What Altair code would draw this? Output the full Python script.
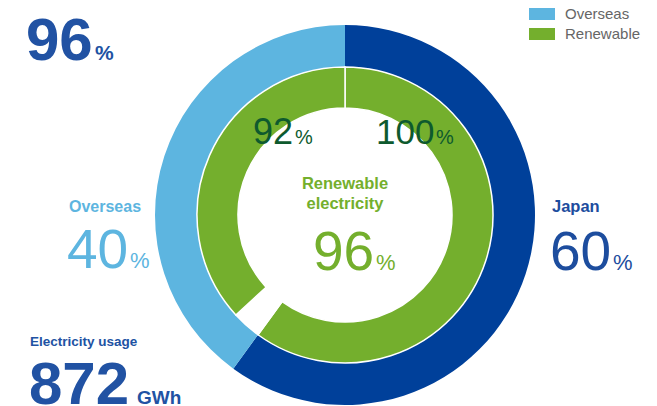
import math
import altair as alt
import pandas as pd

# ---- data ----
region_labels = ["Japan", "Overseas"]
region_shares = [60, 40]            # % of electricity usage
renewable_rates = [100, 92]         # % renewable within each region
total_renewable = ["96", "%"]
center_title = ["Renewable", "electricity"]
usage_label = "Electricity usage"
usage_value = "872"
usage_unit = "GWh"
legend_labels = ["Overseas", "Renewable"]

# ---- derived tables ----
outer = pd.DataFrame({
    "cat": region_labels,
    "value": region_shares,
    "idx": [0, 1],
})
inner_cat = ["Renewable", "Gap", "Renewable2"]
inner_val = [
    region_shares[0] * renewable_rates[0] / 100,
    region_shares[1] * (100 - renewable_rates[1]) / 100,
    region_shares[1] * renewable_rates[1] / 100,
]
inner = pd.DataFrame({"cat": inner_cat, "value": inner_val, "idx": [0, 1, 2]})

DARK = "#00409A"
LIGHT = "#5DB5E0"
GREEN = "#74AF2D"
DKGREEN = "#0E5A2E"
TXTBLUE = "#2152A3"
JPBLUE = "#1D4D9E"
FONT = "Liberation Sans, Arial, sans-serif"

color_scale = alt.Scale(
    domain=["Japan", "Overseas", "Renewable", "Renewable2", "Gap"],
    range=[DARK, LIGHT, GREEN, GREEN, "#ffffff"],
)
theta_scale = alt.Scale(domain=[0, 100], range=[0, 2 * math.pi])

CX, CY = 345 - 8, 215 - 8

outer_ring = alt.Chart(outer).mark_arc(outerRadius=190, innerRadius=148).encode(
    theta=alt.Theta("value:Q", stack=True, scale=theta_scale),
    order=alt.Order("idx:Q"),
    color=alt.Color(
        "cat:N", scale=color_scale,
        legend=alt.Legend(
            values=legend_labels, title=None, orient="none",
            legendX=526.5, legendY=-1.5, direction="vertical",
            symbolType="M-1.733,-0.8H1.733V0.8H-1.733Z", symbolSize=225,
            symbolStrokeWidth=0, symbolOpacity=1,
            labelFont="Liberation Sans", labelFontSize=15, labelColor="#666666",
            labelOffset=15.5, rowPadding=4, padding=0,
        ),
    ),
    x=alt.value(CX), y=alt.value(CY),
)

inner_ring = alt.Chart(inner).mark_arc(
    outerRadius=148, innerRadius=107, stroke="#ffffff", strokeWidth=1.5
).encode(
    theta=alt.Theta("value:Q", stack=True, scale=theta_scale),
    order=alt.Order("idx:Q"),
    color=alt.Color("cat:N", scale=color_scale, legend=None),
    x=alt.value(CX), y=alt.value(CY),
)


def txt(s, x, y, size, color, weight="normal", align="left", font=FONT):
    return alt.Chart(pd.DataFrame({"t": [s]})).mark_text(
        align=align, baseline="alphabetic", fontSize=size, fontWeight=weight,
        font=font, color=color,
    ).encode(x=alt.value(x - 8), y=alt.value(y - 8), text="t:N")


texts = [
    txt(total_renewable[0], 26, 60, 60, TXTBLUE, "bold"),
    txt(total_renewable[1], 95, 60, 21, TXTBLUE, "bold"),
    txt(usage_label, 30, 346, 13.5, TXTBLUE, "bold"),
    txt(usage_value, 29, 404, 60, TXTBLUE, "bold"),
    txt(usage_unit, 137, 404, 19, TXTBLUE, "bold"),
    txt(region_labels[1], 69, 212, 16, LIGHT, "bold"),
    txt(str(region_shares[1]), 67, 268, 55, LIGHT),
    txt("%", 130, 268, 22, LIGHT),
    txt(region_labels[0], 552, 212, 16.5, JPBLUE, "bold"),
    txt(str(region_shares[0]), 550, 270, 55, JPBLUE),
    txt("%", 613, 270, 22, JPBLUE),
    txt(center_title[0], 345, 189, 16.5, GREEN, "bold", "center"),
    txt(center_title[1], 345, 209, 16.5, GREEN, "bold", "center"),
    txt(total_renewable[0], 313, 270, 55, GREEN),
    txt(total_renewable[1], 376, 270, 22, GREEN),
    txt(str(renewable_rates[1]), 253, 144, 36, DKGREEN),
    txt("%", 295, 144, 20, DKGREEN),
    txt(str(renewable_rates[0]), 376, 144, 35, DKGREEN),
    txt("%", 436, 144, 20, DKGREEN),
]

chart = alt.layer(outer_ring, inner_ring, *texts).properties(
    width=641, height=398, padding=0, autosize=alt.AutoSizeParams(type="none")
).configure_view(strokeWidth=0)

chart.save("out.html", embed_options={"renderer": "svg", "actions": False})
